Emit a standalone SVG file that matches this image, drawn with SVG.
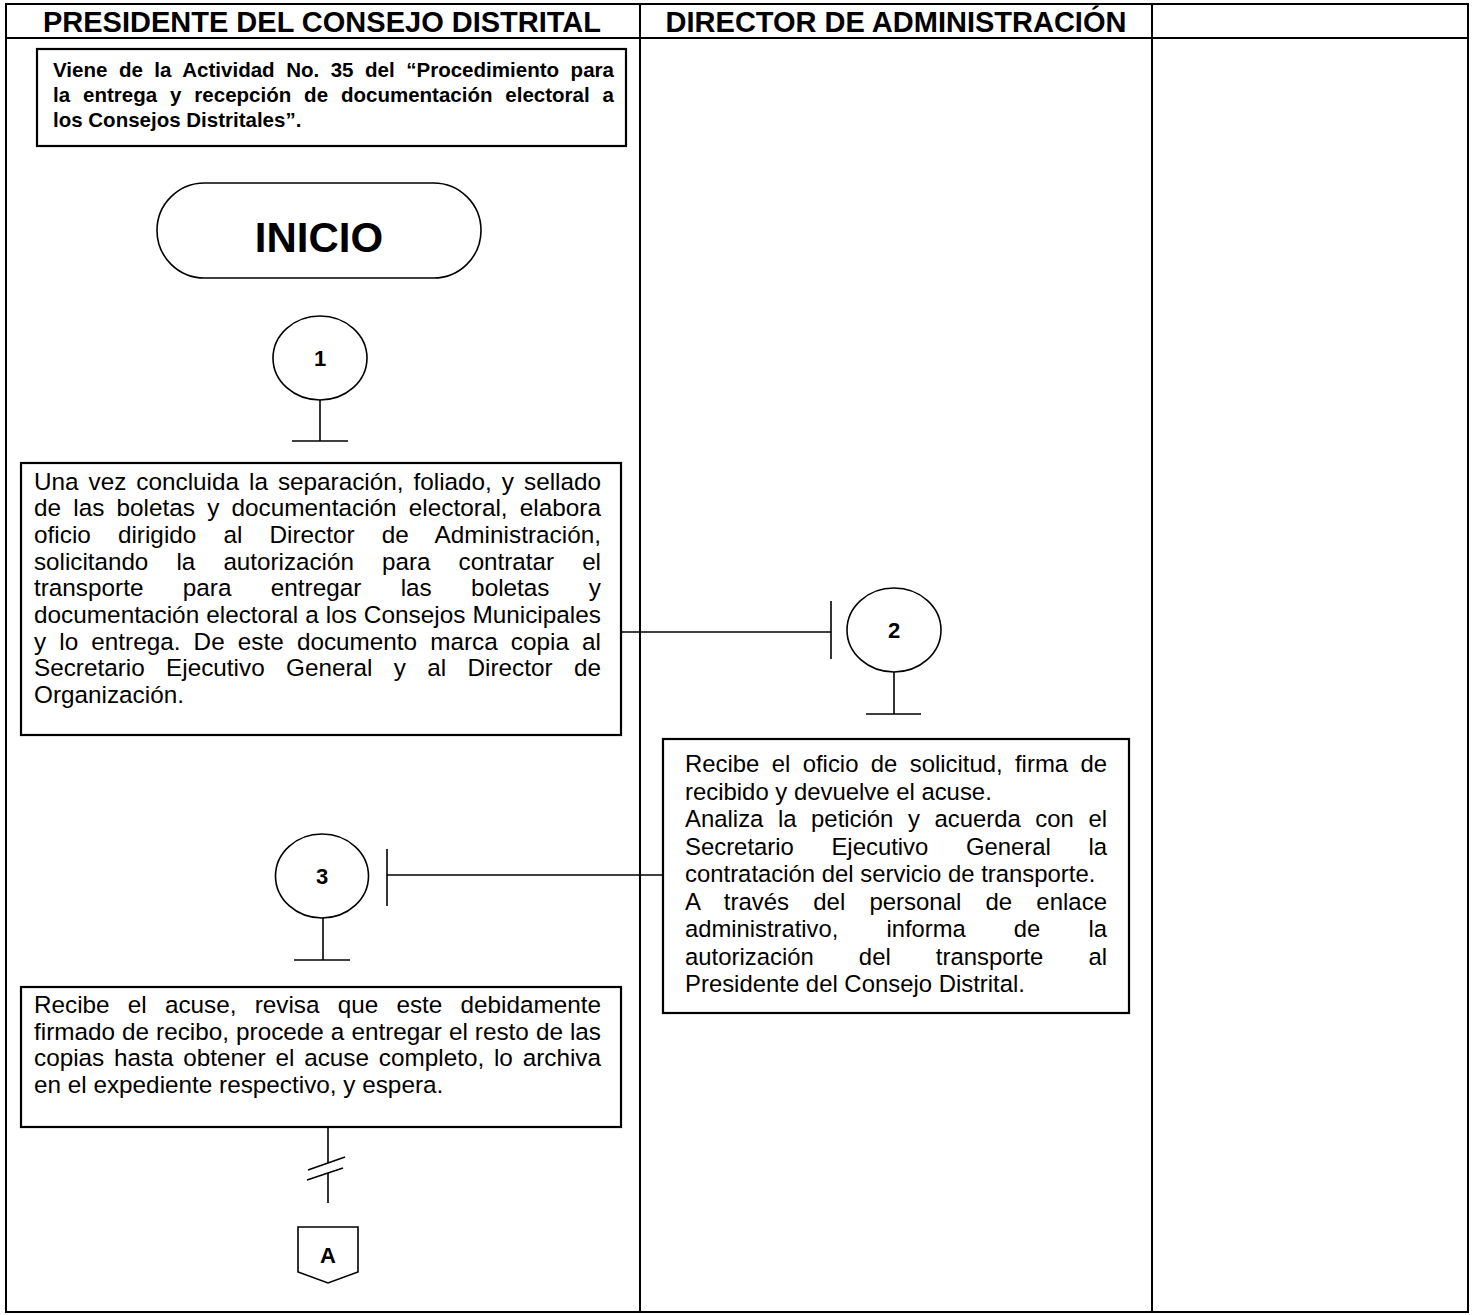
<svg xmlns="http://www.w3.org/2000/svg" width="1474" height="1315" viewBox="0 0 1474 1315">
<defs>
<style>
.lane{fill:none;stroke:#000;stroke-width:2}
.box{fill:#fff;stroke:#000;stroke-width:2.2}
.sym{fill:#fff;stroke:#000;stroke-width:1.6}
.ln{fill:none;stroke:#000;stroke-width:1.6}
.hdr{font-family:"Liberation Sans",Arial,sans-serif;font-weight:bold;font-size:29px;fill:#000}
.tb{font-family:"Liberation Sans",Arial,sans-serif;font-weight:bold;font-size:20.5px;fill:#000}
.tx{font-family:"Liberation Sans",Arial,sans-serif;font-size:24.3px;fill:#000}
.tx2{font-family:"Liberation Sans",Arial,sans-serif;font-size:23.9px;fill:#000}
.num{font-family:"Liberation Sans",Arial,sans-serif;font-weight:bold;font-size:22px;fill:#000}
.big{font-family:"Liberation Sans",Arial,sans-serif;font-weight:bold;font-size:42px;fill:#000}
</style>
</defs>
<rect x="0" y="0" width="1474" height="1315" fill="#fff"/>
<g id="lanes">
<rect class="lane" x="6" y="4" width="1462" height="1308"/>
<line class="lane" x1="6" y1="38" x2="1468" y2="38"/>
<line class="lane" x1="640" y1="4" x2="640" y2="1312"/>
<line class="lane" x1="1152" y1="4" x2="1152" y2="1312"/>
<text class="hdr" x="322" y="32" text-anchor="middle">PRESIDENTE DEL CONSEJO DISTRITAL</text>
<text class="hdr" x="896" y="32" text-anchor="middle">DIRECTOR DE ADMINISTRACIÓN</text>
</g>
<g id="connectors">
<line class="ln" x1="320" y1="400" x2="320" y2="441"/>
<line class="ln" x1="292" y1="441" x2="348" y2="441"/>
<line class="ln" x1="621" y1="632" x2="831" y2="632"/>
<line class="ln" x1="831" y1="601" x2="831" y2="659"/>
<line class="ln" x1="894" y1="672" x2="894" y2="714"/>
<line class="ln" x1="866" y1="714" x2="921" y2="714"/>
<line class="ln" x1="663" y1="875" x2="387" y2="875"/>
<line class="ln" x1="387" y1="849" x2="387" y2="906"/>
<line class="ln" x1="323" y1="918" x2="323" y2="960"/>
<line class="ln" x1="294" y1="960" x2="350" y2="960"/>
<line class="ln" x1="328" y1="1127" x2="328" y2="1163"/>
<line class="ln" x1="308" y1="1170" x2="345" y2="1157"/>
<line class="ln" x1="307" y1="1180" x2="343" y2="1168"/>
<line class="ln" x1="328" y1="1173" x2="328" y2="1203"/>
</g>
<g id="node-note">
<rect class="box" x="37" y="49" width="589" height="97"/>
<text class="tb" x="53" y="77" textLength="561" lengthAdjust="spacingAndGlyphs" style="word-spacing:5.75px">Viene de la Actividad No. 35 del “Procedimiento para</text>
<text class="tb" x="53" y="102" textLength="561" lengthAdjust="spacingAndGlyphs" style="word-spacing:7.26px">la entrega y recepción de documentación electoral a</text>
<text class="tb" x="53" y="127">los Consejos Distritales”.</text>
</g>
<g id="node-inicio">
<rect class="sym" x="157" y="183" width="324" height="95" rx="47.5" ry="47.5"/>
<text class="big" x="319" y="252" text-anchor="middle">INICIO</text>
</g>
<g id="node-c1">
<ellipse class="sym" cx="320" cy="358" rx="47" ry="42"/>
<text class="num" x="320" y="366" text-anchor="middle">1</text>
</g>
<g id="node-box1">
<rect class="box" x="21" y="463" width="600" height="272"/>
<text class="tx" x="34" y="489.5" textLength="567" lengthAdjust="spacingAndGlyphs" style="word-spacing:3.24px">Una vez concluida la separación, foliado, y sellado</text>
<text class="tx" x="34" y="516.2" textLength="567" lengthAdjust="spacingAndGlyphs" style="word-spacing:5.35px">de las boletas y documentación electoral, elabora</text>
<text class="tx" x="34" y="542.9" textLength="567" lengthAdjust="spacingAndGlyphs" style="word-spacing:20.22px">oficio dirigido al Director de Administración,</text>
<text class="tx" x="34" y="569.6" textLength="567" lengthAdjust="spacingAndGlyphs" style="word-spacing:21.5px">solicitando la autorización para contratar el</text>
<text class="tx" x="34" y="596.3" textLength="567" lengthAdjust="spacingAndGlyphs" style="word-spacing:32.64px">transporte para entregar las boletas y</text>
<text class="tx" x="34" y="623" textLength="567" lengthAdjust="spacingAndGlyphs" style="word-spacing:0.22px">documentación electoral a los Consejos Municipales</text>
<text class="tx" x="34" y="649.7" textLength="567" lengthAdjust="spacingAndGlyphs" style="word-spacing:6.39px">y lo entrega. De este documento marca copia al</text>
<text class="tx" x="34" y="676.4" textLength="567" lengthAdjust="spacingAndGlyphs" style="word-spacing:14.6px">Secretario Ejecutivo General y al Director de</text>
<text class="tx" x="34" y="703.1">Organización.</text>
</g>
<g id="node-c2">
<ellipse class="sym" cx="894" cy="630" rx="47" ry="42"/>
<text class="num" x="894" y="638" text-anchor="middle">2</text>
</g>
<g id="node-box2">
<rect class="box" x="663" y="739" width="466" height="274"/>
<text class="tx2" x="685" y="772" textLength="422" lengthAdjust="spacingAndGlyphs" style="word-spacing:5.7px">Recibe el oficio de solicitud, firma de</text>
<text class="tx2" x="685" y="799.5">recibido y devuelve el acuse.</text>
<text class="tx2" x="685" y="827" textLength="422" lengthAdjust="spacingAndGlyphs" style="word-spacing:7.9px">Analiza la petición y acuerda con el</text>
<text class="tx2" x="685" y="854.5" textLength="422" lengthAdjust="spacingAndGlyphs" style="word-spacing:30.9px">Secretario Ejecutivo General la</text>
<text class="tx2" x="685" y="882">contratación del servicio de transporte.</text>
<text class="tx2" x="685" y="909.5" textLength="422" lengthAdjust="spacingAndGlyphs" style="word-spacing:17.4px">A través del personal de enlace</text>
<text class="tx2" x="685" y="937" textLength="422" lengthAdjust="spacingAndGlyphs" style="word-spacing:41.8px">administrativo, informa de la</text>
<text class="tx2" x="685" y="964.5" textLength="422" lengthAdjust="spacingAndGlyphs" style="word-spacing:38.4px">autorización del transporte al</text>
<text class="tx2" x="685" y="992">Presidente del Consejo Distrital.</text>
</g>
<g id="node-c3">
<ellipse class="sym" cx="322" cy="876" rx="46.5" ry="42"/>
<text class="num" x="322" y="884" text-anchor="middle">3</text>
</g>
<g id="node-box3">
<rect class="box" x="21" y="987" width="600" height="140"/>
<text class="tx" x="34" y="1013" textLength="567" lengthAdjust="spacingAndGlyphs" style="word-spacing:11.43px">Recibe el acuse, revisa que este debidamente</text>
<text class="tx" x="34" y="1039.7" textLength="567" lengthAdjust="spacingAndGlyphs" style="word-spacing:0.27px">firmado de recibo, procede a entregar el resto de las</text>
<text class="tx" x="34" y="1066.4" textLength="567" lengthAdjust="spacingAndGlyphs" style="word-spacing:3.04px">copias hasta obtener el acuse completo, lo archiva</text>
<text class="tx" x="34" y="1093.1">en el expediente respectivo, y espera.</text>
</g>
<g id="node-A">
<path class="sym" d="M298,1227 H358 V1272 L328,1283 L298,1272 Z"/>
<text class="num" x="328" y="1263" text-anchor="middle">A</text>
</g>
</svg>
